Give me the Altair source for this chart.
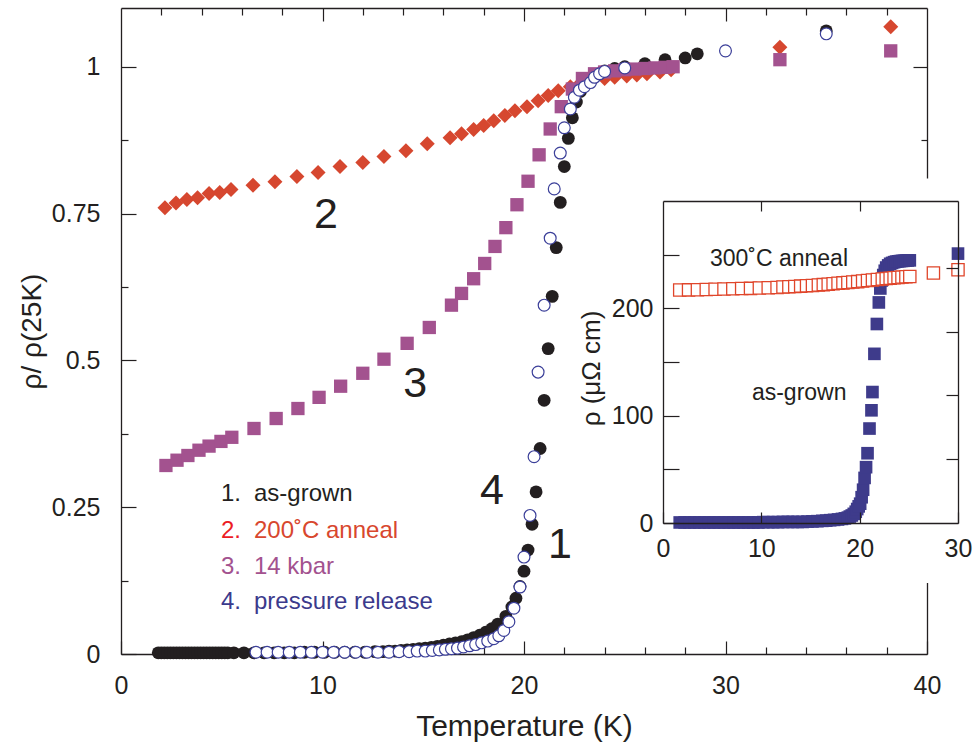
import altair as alt
import pandas as pd

# ---------------- main panel: rho / rho(25K) vs T ----------------
# 1. as-grown (filled black circles)
T_ASGROWN = [1.85, 2.0, 2.15, 2.3, 2.45, 2.6, 2.75, 2.9, 3.05, 3.2, 3.35, 3.5,
             3.65, 3.8, 3.95, 4.1, 4.25, 4.4, 4.55, 4.7, 4.85, 5.0, 5.15, 5.3,
             5.6, 6.1, 6.6, 7.1, 7.6, 8.1, 8.6, 9.1, 9.6, 10.1, 10.6, 11.1, 11.6, 12.1, 12.6,
             13.0, 13.3, 13.6, 13.9, 14.2, 14.5, 14.8, 15.1, 15.4, 15.7, 16.0, 16.3,
             16.6, 16.9, 17.2, 17.5, 17.8, 18.1, 18.4, 18.7, 19.1, 19.4, 19.6, 19.8,
             20.0, 20.2, 20.4, 20.6, 20.8, 21.0, 21.2, 21.4, 21.6, 21.8, 22.0, 22.2,
             22.4, 22.6, 22.8, 23.1, 23.5, 24.0, 24.5, 25.0, 26.0, 27.0, 28.0, 28.6, 35.0]
R_ASGROWN = [0.002, 0.002, 0.002, 0.002, 0.002, 0.002, 0.002, 0.002, 0.002, 0.002, 0.002, 0.002,
             0.002, 0.002, 0.002, 0.002, 0.002, 0.002, 0.002, 0.002, 0.002, 0.002, 0.002, 0.002,
             0.002, 0.002, 0.002, 0.002, 0.002, 0.002, 0.002, 0.003, 0.003, 0.003, 0.003, 0.003, 0.003, 0.003, 0.004,
             0.004, 0.005, 0.005, 0.006, 0.007, 0.008, 0.009, 0.010, 0.011, 0.013, 0.015, 0.017,
             0.019, 0.021, 0.024, 0.028, 0.032, 0.037, 0.043, 0.051, 0.064, 0.080, 0.095, 0.115,
             0.141, 0.177, 0.221, 0.276, 0.350, 0.432, 0.520, 0.609, 0.692, 0.769, 0.830, 0.878,
             0.913, 0.940, 0.958, 0.975, 0.985, 0.993, 0.997, 1.000, 1.005, 1.012, 1.015, 1.022, 1.061]

# 2. 200C anneal (red diamonds)
T_ANNEAL = [2.18, 2.73, 3.27, 3.8, 4.37, 4.9, 5.46, 6.55, 7.64, 8.73, 9.78, 10.87,
            12.0, 13.05, 14.14, 15.2, 16.33, 16.9, 17.5, 18.0, 18.5, 19.05, 19.55, 20.15,
            20.7, 21.2, 21.7, 22.3, 22.8, 23.4, 24.0, 24.5, 25.1, 25.6, 26.1, 26.75, 27.3,
            32.7, 38.2]
R_ANNEAL = [0.760, 0.768, 0.774, 0.777, 0.784, 0.786, 0.791, 0.798, 0.804, 0.813, 0.820, 0.830,
            0.837, 0.847, 0.857, 0.869, 0.879, 0.886, 0.893, 0.900, 0.908, 0.917, 0.925, 0.932,
            0.942, 0.951, 0.959, 0.966, 0.972, 0.977, 0.980, 0.982, 0.984, 0.986, 0.988, 0.991, 0.995,
            1.033, 1.068]

# 3. 14 kbar (purple squares)
T_PRESS = [2.23, 2.78, 3.32, 3.87, 4.37, 4.96, 5.5, 6.6, 7.7, 8.78, 9.83, 10.9,
           12.0, 13.05, 14.2, 15.3, 16.4, 16.9, 17.5, 18.05, 18.56, 19.1, 19.65, 20.2,
           20.75, 21.3, 21.85, 22.4, 22.9, 23.5, 24.0, 24.5, 25.0, 25.5, 26.0, 26.5, 27.0, 27.4,
           32.7, 38.2]
R_PRESS = [0.321, 0.330, 0.338, 0.347, 0.354, 0.362, 0.369, 0.384, 0.401, 0.418, 0.437, 0.456,
           0.478, 0.502, 0.529, 0.556, 0.594, 0.614, 0.639, 0.665, 0.694, 0.726, 0.765, 0.805,
           0.850, 0.894, 0.932, 0.962, 0.980, 0.988, 0.991, 0.993, 0.995, 0.996, 0.997, 0.998, 0.999, 1.000,
           1.012, 1.027]

# 4. pressure release (open circles)
T_RELEASE = [6.7, 7.25, 7.8, 8.35, 8.9, 9.45, 10.0, 10.55, 11.1, 11.65, 12.2, 12.75, 13.3,
             13.8, 14.3, 14.7, 15.1, 15.45, 15.8, 16.1, 16.4, 16.7, 17.0, 17.3, 17.6, 17.9,
             18.2, 18.5, 18.75, 19.0, 19.25, 19.5, 19.8, 20.0, 20.3, 20.5, 20.7, 21.0, 21.3,
             21.5, 21.8, 22.0, 22.3, 22.5, 22.75, 23.0, 23.3, 23.5, 23.75, 24.0, 25.0, 30.0, 35.0]
R_RELEASE = [0.003, 0.003, 0.003, 0.003, 0.003, 0.003, 0.003, 0.003, 0.003, 0.003, 0.003, 0.003, 0.003,
             0.004, 0.004, 0.005, 0.005, 0.006, 0.007, 0.008, 0.009, 0.010, 0.012, 0.014, 0.016, 0.019,
             0.022, 0.026, 0.031, 0.040, 0.055, 0.078, 0.114, 0.165, 0.236, 0.336, 0.480, 0.594, 0.708,
             0.792, 0.853, 0.896, 0.928, 0.948, 0.960, 0.966, 0.973, 0.982, 0.988, 0.992, 0.998, 1.027, 1.056]

# curve labels
CURVE_TXT = ["2", "3", "4", "1"]
CURVE_T = [10.17, 14.6, 18.41, 21.79]
CURVE_R = [0.748, 0.46, 0.277, 0.185]

# legend text
LEG_NUM = ["1.", "2.", "3.", "4."]
LEG_LABEL = ["as-grown", "200˚C anneal", "14 kbar", "pressure release"]
LEG_NUM_COLOR = ["#231f20", "#ec1c24", "#a3528f", "#3b3a8c"]
LEG_LABEL_COLOR = ["#231f20", "#d8472e", "#a3528f", "#3b3a8c"]
LEG_R = [0.272, 0.209, 0.148, 0.089]

# ---------------- inset: rho (uOhm cm) vs T ----------------
T_IN_ASGROWN = [1.7, 2.2, 2.7, 3.2, 3.7, 4.2, 4.7, 5.2, 5.7, 6.2, 6.7, 7.2, 7.7, 8.2, 8.7,
                9.2, 9.7, 10.2, 10.7, 11.2, 11.7, 12.2, 12.7, 13.2, 13.7, 14.2, 14.7, 15.2,
                15.7, 16.2, 16.6, 17.0, 17.4, 17.8, 18.2, 18.5, 18.8, 19.0, 19.2, 19.4, 19.6,
                19.75, 19.9, 20.05, 20.2, 20.35, 20.5, 20.65, 20.8, 21.0, 21.2, 21.3, 21.5,
                21.75, 21.95, 22.1, 22.25, 22.4, 22.55, 22.7, 22.9, 23.1, 23.3, 23.5, 23.7,
                23.9, 24.1, 24.3, 24.5, 24.7, 24.9, 25.1, 30.0]
R_IN_ASGROWN = [0.5, 0.5, 0.5, 0.5, 0.5, 0.5, 0.5, 0.5, 0.5, 0.5, 0.5, 0.5, 0.5, 0.5, 0.5,
                0.5, 0.5, 0.8, 0.8, 0.8, 0.8, 1.0, 1.0, 1.0, 1.0, 1.0, 1.3, 1.5,
                1.7, 2.0, 2.2, 2.6, 2.9, 3.3, 3.8, 4.3, 5.0, 6.0, 7.0, 8.5, 10.5,
                13.0, 15.5, 18.0, 24.0, 31.0, 42.0, 52.0, 65.0, 88.0, 105.0, 122.0, 157.6,
                185.4, 205.5, 218.5, 226.0, 231.0, 235.0, 238.0, 240.0, 241.5, 242.3, 243.0, 243.5,
                243.8, 244.0, 244.2, 244.3, 244.5, 244.6, 244.7, 251.0]

T_IN_300C = [1.7, 2.6, 3.5, 4.4, 5.3, 6.2, 7.1, 8.0, 8.9, 9.8, 10.7, 11.6, 12.2, 12.8, 13.4,
             14.0, 14.6, 15.2, 15.8, 16.3, 16.8, 17.3, 17.8, 18.3, 18.8, 19.3, 19.8, 20.3,
             20.8, 21.3, 21.8, 22.3, 22.7, 23.1, 23.5, 23.9, 24.3, 24.7, 25.1, 27.5, 30.0]
R_IN_300C = [217.0, 217.2, 217.4, 217.6, 217.8, 218.0, 218.2, 218.4, 218.6, 218.9, 219.2, 219.5, 219.8, 220.1, 220.4,
             220.7, 221.0, 221.3, 221.7, 222.1, 222.5, 222.9, 223.3, 223.7, 224.1, 224.5, 224.9, 225.4,
             225.9, 226.4, 226.9, 227.3, 227.7, 228.1, 228.5, 228.8, 229.1, 229.4, 229.7, 233.0, 236.0]

IN_TXT = ["300˚C anneal", "as-grown"]
IN_TXT_T = [4.77, 9.04]
IN_TXT_R = [246.0, 121.0]

# inset panel backdrop, in inset data units
PANEL_T = [-8.8]
PANEL_T2 = [31.7]
PANEL_R = [-56.0]
PANEL_R2 = [321.0]

# ticks
MAIN_X_MAJOR = [0, 10, 20, 30, 40]
MAIN_X_MINOR = [2, 4, 6, 8, 12, 14, 16, 18, 22, 24, 26, 28, 32, 34, 36, 38]
MAIN_Y_MAJOR = [0, 0.25, 0.5, 0.75, 1.0]
MAIN_Y_MINOR = [0.125, 0.375, 0.625, 0.875]
IN_X_TICKS = [0, 10, 20, 30]
IN_X_TOP = [10, 20]
IN_Y_TICKS = [0, 50, 100, 150, 200, 250]
IN_Y_RIGHT = [59.4, 118.8, 178.2, 237.6]

for a, b in [(T_ASGROWN, R_ASGROWN), (T_ANNEAL, R_ANNEAL), (T_PRESS, R_PRESS),
             (T_RELEASE, R_RELEASE), (T_IN_ASGROWN, R_IN_ASGROWN), (T_IN_300C, R_IN_300C)]:
    assert len(a) == len(b), (len(a), len(b))

# ---------------- styling ----------------
W, H = 806, 646
FONT = "Liberation Sans"
INK = "#231f20"


def axis(orient, values, size, labels=False, domain=False, title=None, **kw):
    return alt.Axis(orient=orient, values=values, tickSize={"expr": str(-size)},
                    labels=labels, domain=domain, title=title, grid=False,
                    tickColor=INK, tickWidth=1.2, domainColor=INK, domainWidth=1.3,
                    labelFont=FONT, labelColor=INK, labelFontSize=25, labelFlush=False,
                    labelOverlap=False, titleFont=FONT, titleColor=INK,
                    titleFontWeight="normal", **kw)


xs = alt.Scale(domain=[0, 40], nice=False)
ys = alt.Scale(domain=[0, 1.1], nice=False)

df1 = pd.DataFrame({"T": T_ASGROWN, "R": R_ASGROWN})
df2 = pd.DataFrame({"T": T_ANNEAL, "R": R_ANNEAL})
df3 = pd.DataFrame({"T": T_PRESS, "R": R_PRESS})
df4 = pd.DataFrame({"T": T_RELEASE, "R": R_RELEASE})

ax_bottom = axis("bottom", MAIN_X_MAJOR, 13, labels=True, domain=True, title="Temperature (K)",
                 labelPadding=32, format="d", titleFontSize=30, titleX=403, titleY=72,
                 titleBaseline="middle", titleAlign="center")
ax_left = axis("left", MAIN_Y_MAJOR, 15, labels=True, domain=True, title="ρ/ ρ(25K)",
               labelPadding=36, format=".2~f", titleFontSize=28, titleX=-89, titleY=323,
               titleBaseline="middle", titleAlign="center")

l1 = alt.Chart(df1).mark_circle(size=165, color=INK, opacity=1).encode(
    x=alt.X("T:Q", scale=xs, axis=ax_bottom),
    y=alt.Y("R:Q", scale=ys, axis=ax_left))
l2 = alt.Chart(df2).mark_point(shape="diamond", size=225, filled=True, color="#d6472f", opacity=1).encode(
    x=alt.X("T:Q", scale=xs, axis=axis("bottom", MAIN_X_MINOR, 7)),
    y=alt.Y("R:Q", scale=ys, axis=axis("left", MAIN_Y_MINOR, 7)))
l3 = alt.Chart(df3).mark_square(size=177, color="#a3528f", opacity=1).encode(
    x=alt.X("T:Q", scale=xs, axis=axis("top", [10, 20, 30], 13, domain=True)),
    y=alt.Y("R:Q", scale=ys, axis=axis("right", [0.25, 0.5, 0.75, 1.0], 14, domain=True)))
l4 = alt.Chart(df4).mark_point(shape="circle", size=140, filled=False, fill="white", fillOpacity=1,
                               stroke="#3b3f99", strokeWidth=1.2, opacity=1).encode(
    x=alt.X("T:Q", scale=xs, axis=axis("top", MAIN_X_MINOR, 7)),
    y=alt.Y("R:Q", scale=ys, axis=axis("right", MAIN_Y_MINOR, 6)))

df_curve = pd.DataFrame({"t": CURVE_TXT, "T": CURVE_T, "R": CURVE_R})
l5 = alt.Chart(df_curve).mark_text(font=FONT, fontSize=43, color=INK, align="center",
                                   baseline="middle").encode(
    x=alt.X("T:Q", scale=xs, axis=None), y=alt.Y("R:Q", scale=ys, axis=None), text="t:N")

df_leg = pd.DataFrame({"n": LEG_NUM, "l": LEG_LABEL, "cn": LEG_NUM_COLOR,
                       "cl": LEG_LABEL_COLOR, "R": LEG_R,
                       "Tn": [4.96] * 4, "Tl": [6.6] * 4})
l6 = alt.Chart(df_leg).mark_text(font=FONT, fontSize=24, align="left", baseline="middle").encode(
    x=alt.X("Tn:Q", scale=xs, axis=None), y=alt.Y("R:Q", scale=ys, axis=None),
    text="n:N", color=alt.Color("cn:N", scale=None))
l7 = alt.Chart(df_leg).mark_text(font=FONT, fontSize=24, align="left", baseline="middle").encode(
    x=alt.X("Tl:Q", scale=xs, axis=None), y=alt.Y("R:Q", scale=ys, axis=None),
    text="l:N", color=alt.Color("cl:N", scale=None))

main = alt.layer(l1, l2, l3, l4, l5, l6, l7).resolve_axis(x="independent", y="independent")

# ---------------- inset ----------------
xi = alt.Scale(domain=[0, 30], range=[542, 837], nice=False)
yi = alt.Scale(domain=[0, 300], range=[515, 193], nice=False)

df_panel = pd.DataFrame({"T": PANEL_T, "T2": PANEL_T2, "R": PANEL_R, "R2": PANEL_R2})
i0 = alt.Chart(df_panel).mark_rect(color="white", opacity=1).encode(
    x=alt.X("T:Q", scale=xi, axis=None), x2="T2:Q",
    y=alt.Y("R:Q", scale=yi, axis=None), y2="R2:Q")

dfa = pd.DataFrame({"T": T_IN_ASGROWN, "R": R_IN_ASGROWN})
dfb = pd.DataFrame({"T": T_IN_300C, "R": R_IN_300C})

in_bottom = axis("bottom", IN_X_TICKS, 11, labels=True, domain=True, offset=-131,
                 labelPadding=24, format="d", zindex=1)
in_left = axis("left", IN_Y_TICKS, 16, labels=True, domain=True, offset=-542,
               labelPadding=26, format="d",
               labelExpr="datum.value % 100 === 0 ? datum.label : ''",
               title="ρ (μΩ cm)", titleFontSize=26, titleX=-71.5, titleY=360,
               titleBaseline="middle", titleAlign="center", zindex=1)
in_top = axis("top", IN_X_TOP, 10, domain=True, offset=-193, zindex=1)
in_right = axis("right", IN_Y_RIGHT, 12, domain=True, offset=31, zindex=1)

i1 = alt.Chart(dfa).mark_square(size=160, color="#3e3b8b", opacity=1).encode(
    x=alt.X("T:Q", scale=xi, axis=in_bottom),
    y=alt.Y("R:Q", scale=yi, axis=in_left))
i2 = alt.Chart(dfb).mark_point(shape="square", size=150, filled=False, fill="white", fillOpacity=1,
                               stroke="#e0452a", strokeWidth=1.3, opacity=1).encode(
    x=alt.X("T:Q", scale=xi, axis=in_top),
    y=alt.Y("R:Q", scale=yi, axis=in_right))
df_int = pd.DataFrame({"t": IN_TXT, "T": IN_TXT_T, "R": IN_TXT_R})
i3 = alt.Chart(df_int).mark_text(font=FONT, fontSize=23, color=INK, align="left",
                                 baseline="middle").encode(
    x=alt.X("T:Q", scale=xi, axis=None), y=alt.Y("R:Q", scale=yi, axis=None), text="t:N")

inset = alt.layer(i0, i1, i2, i3).resolve_axis(x="independent", y="independent")

chart = alt.layer(main, inset).resolve_scale(
    x="independent", y="independent"
).resolve_axis(x="independent", y="independent").properties(
    width=W, height=H,
    autosize=alt.AutoSizeParams(type="none"),
    padding={"left": 121, "top": 8, "right": 52, "bottom": 94},
    background="white",
).configure_view(strokeWidth=0)

chart.save("out.html", embed_options={"renderer": "svg", "actions": False})
